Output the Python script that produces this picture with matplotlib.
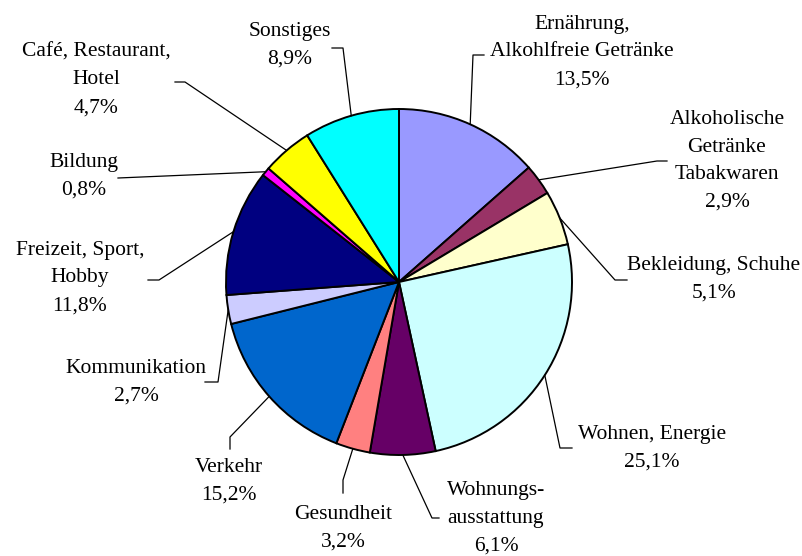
import numpy as np
import matplotlib
matplotlib.use("Agg")
import matplotlib.pyplot as plt

# Verbraucherausgaben nach Bereichen (Anteil in %)
categories = ["Ernährung,\nAlkohlfreie Getränke", "Alkoholische\nGetränke\nTabakwaren",
              "Bekleidung, Schuhe", "Wohnen, Energie", "Wohnungs-\nausstattung",
              "Gesundheit", "Verkehr", "Kommunikation", "Freizeit, Sport,\nHobby",
              "Bildung", "Café, Restaurant,\nHotel", "Sonstiges"]
shares = [13.5, 2.9, 5.1, 25.1, 6.1, 3.2, 15.2, 2.7, 11.8, 0.8, 4.7, 8.9]
colors = ["#9999FF", "#993366", "#FFFFCC", "#CCFFFF", "#660066", "#FF8080",
          "#0066CC", "#CCCCFF", "#000080", "#FF00FF", "#FFFF00", "#00FFFF"]

W, H = 803, 556
CX, CY, R = 399, 282, 173  # pie centre / radius in pixels (from top)

# label block centre (px) and leader elbow + end (px)
label_pos = [(582, 52), (727, 161), (714, 279), (652, 448), (496, 518),
             (343, 528), (229, 481), (136, 382), (80, 278), (84, 176),
             (96, 80), (290, 45)]
elbows = [((473, 55), (484, 55)), ((657, 161), (667, 161)), ((615, 280), (627, 280)),
          ((560, 448), (572, 448)), ((432, 518), (439, 518)), ((343, 480), (343, 493)),
          ((230, 437), (230, 449)), ((218, 382), (205, 382)), ((159, 280), (148, 280)),
          ((118, 178), (118, 178)), ((185, 82), (175, 82)), ((343, 48), (332, 48))]

plt.rcParams['font.family'] = ['Liberation Serif', 'DejaVu Serif']

fig = plt.figure(figsize=(W / 100, H / 100), dpi=100)
ax = fig.add_axes([0, 0, 1, 1])

ax.pie(shares, colors=colors, startangle=90, counterclock=False,
       center=(CX, H - CY), radius=R,
       wedgeprops=dict(edgecolor='black', linewidth=1.4))
ax.set_xlim(0, W)
ax.set_ylim(0, H)
ax.set_aspect('equal')
ax.axis('off')

cum = np.cumsum([0] + shares)
for i, (lab, val) in enumerate(zip(categories, shares)):
    mid = (cum[i] + val / 2) / 100 * 2 * np.pi
    sx = CX + R * np.sin(mid)
    sy = CY - R * np.cos(mid)
    (ex, ey), (fx, fy) = elbows[i]
    ax.plot([sx, ex, fx], [H - sy, H - ey, H - fy], color='black', lw=0.9)
    lx, ly = label_pos[i]
    ax.text(lx, H - ly, f"{lab}\n{val:.1f}%".replace('.', ','),
            ha='center', va='center', multialignment='center',
            fontsize=15.5, linespacing=1.62)

fig.savefig("out.png", dpi=100)
